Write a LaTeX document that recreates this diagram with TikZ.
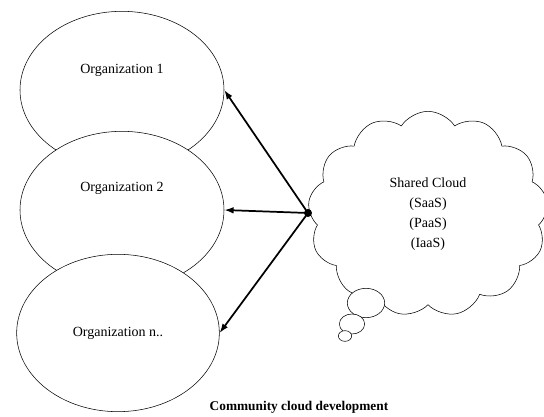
\documentclass[tikz,border=0pt]{standalone}
\usepackage{fontspec}
\setmainfont{Liberation Serif}
\usetikzlibrary{positioning, shapes.geometric, shapes.symbols, arrows.meta}

\begin{document}
\begin{tikzpicture}[
  x=0.75pt, y=-0.75pt,
  font=\fontsize{10.5}{15}\selectfont,
  org/.style={draw, ellipse, fill=white, thin, minimum width=153pt,
              minimum height=118pt, inner sep=0pt},
  shared/.style={draw, cloud, cloud puffs=13, cloud puff arc=115, aspect=1.25,
                 thin, minimum width=180pt, minimum height=154pt,
                 align=center, inner sep=0pt},
  bubble/.style={draw, thin, fill=white},
  link/.style={-{Latex[length=7pt, width=5pt]}, line width=1.3pt},
]
\useasboundingbox (0,0) rectangle (544,417);

\node[org] (org1) at (122,90) {};
\node at (122,70) {Organization 1};
\node[org] (org2) at (122,210) {};
\node at (122,188) {Organization 2};
\node[org, minimum width=152pt] (orgn) at (118,333) {Organization n..};

\node[shared] (cloud) at (428,214)
    {Shared Cloud\\(SaaS)\\(PaaS)\\(IaaS)};

% thought bubbles under the cloud
\draw[bubble] (366,303) ellipse [x radius=14pt, y radius=11pt];
\draw[bubble] (352,324) ellipse [x radius=9.5pt, y radius=7.5pt];
\draw[bubble] (345,336) ellipse [x radius=5pt, y radius=4pt];

\coordinate (hub) at (308,213);
\fill (hub) circle (3pt);

\draw[link] (hub) -- (org1.east);
\draw[link] (hub) -- (org2.east);
\draw[link] (hub) -- (orgn.east);

\node[font=\fontsize{10}{12}\selectfont\bfseries] (caption) at (299,407)
    {Community cloud development};

\end{tikzpicture}
\end{document}
